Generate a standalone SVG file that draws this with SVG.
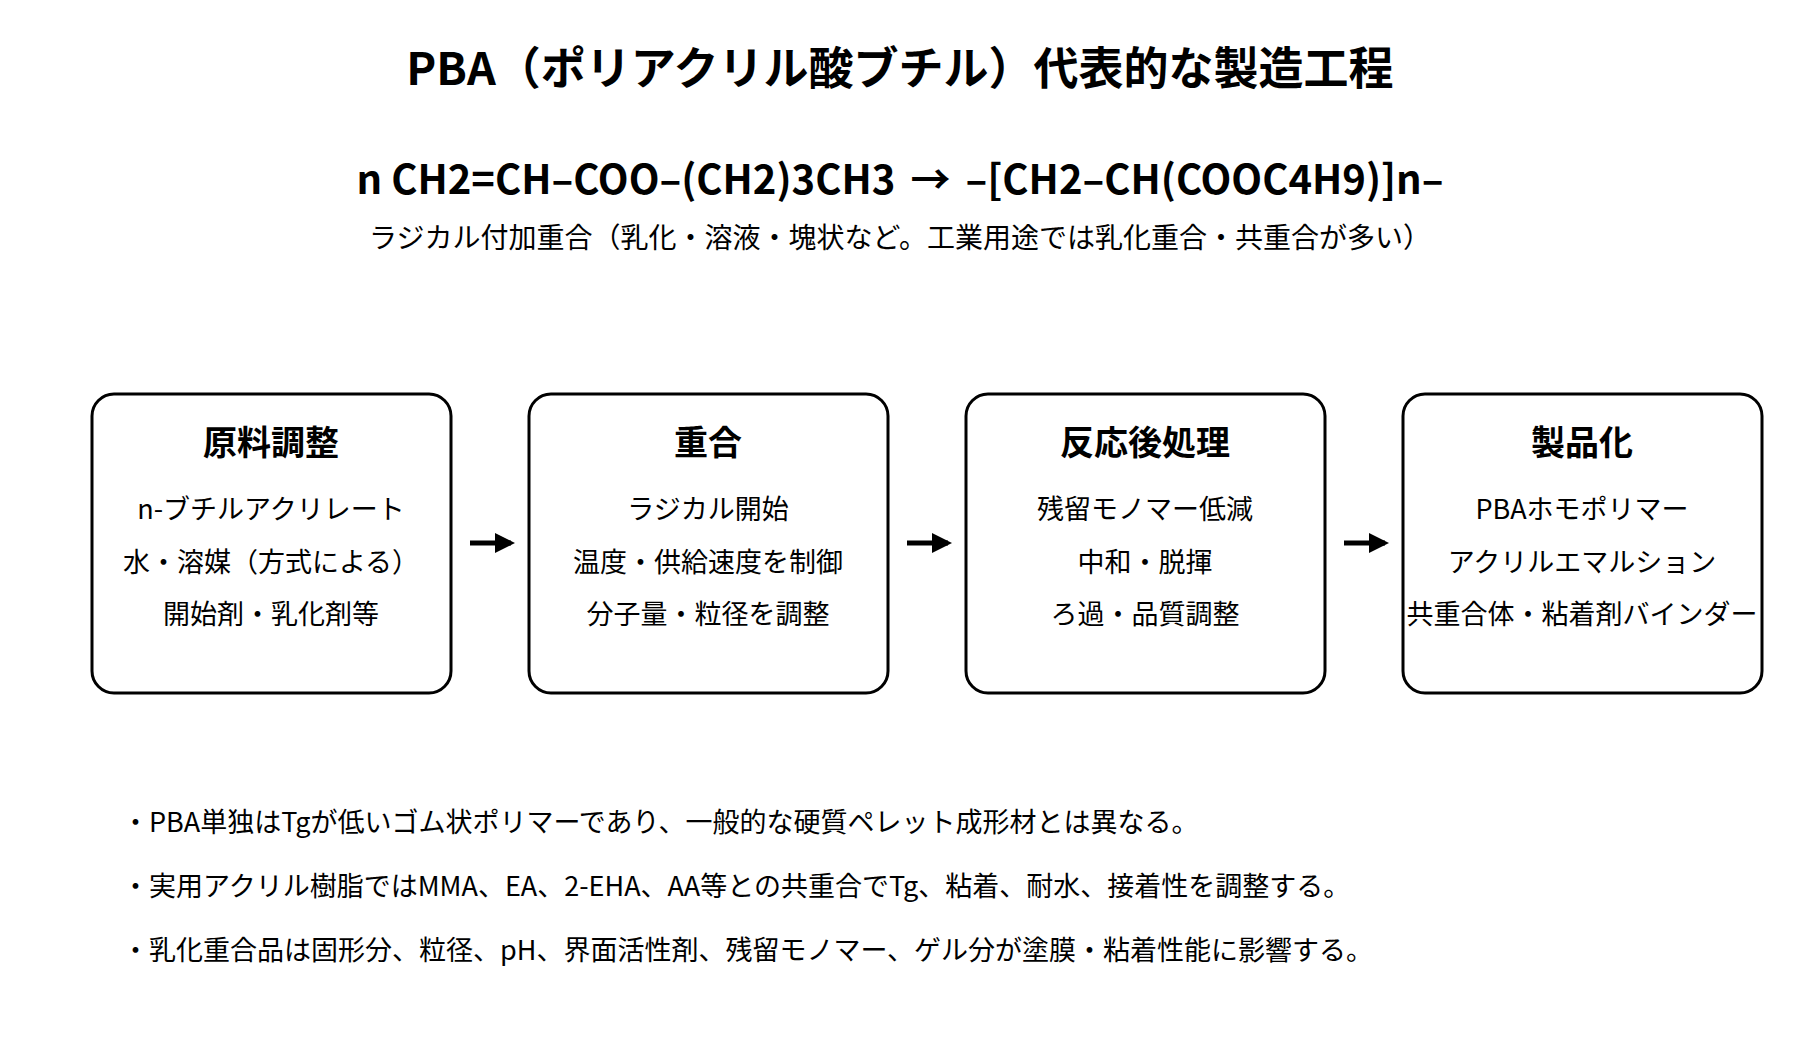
<svg xmlns="http://www.w3.org/2000/svg" width="1800" height="1050" viewBox="0 0 1800 1050">
<defs>
<style>
text{font-family:"Noto Sans CJK JP","Noto Sans",sans-serif;fill:#000}
.t{font-size:45px;font-weight:bold;text-anchor:middle}
.eq{font-size:40px;font-weight:bold;text-anchor:middle}
.s{font-size:28px;text-anchor:middle}
.bt{font-size:34px;font-weight:bold;text-anchor:middle}
.bl{font-size:27px;text-anchor:middle}
.n{font-size:27px}
.box{fill:#fff;stroke:#000;stroke-width:3}
.c{stroke:#000;stroke-width:5;fill:none}
</style>
<marker id="a" viewBox="0 0 10 10" refX="8" refY="5" markerWidth="4" markerHeight="4" orient="auto"><path d="M0,0L10,5L0,10z"/></marker>
</defs>
<rect width="1800" height="1050" fill="#fff"/>
<text class="t" x="900" y="85">PBA（ポリアクリル酸ブチル）代表的な製造工程</text>
<text class="eq" x="900" y="194">n CH2=CH–COO–(CH2)3CH3 <tspan dx="6">→</tspan> <tspan dx="6">–[CH2–CH(COOC4H9)]n–</tspan></text>
<text class="s" x="900" y="248">ラジカル付加重合（乳化・溶液・塊状など。工業用途では乳化重合・共重合が多い）</text>
<g id="n1"><rect class="box" x="92" y="394" width="359" height="299" rx="22"/>
<text class="bt" x="271" y="455">原料調整</text>
<text class="bl" x="271" y="519">n-ブチルアクリレート</text>
<text class="bl" x="271" y="572">水・溶媒（方式による）</text>
<text class="bl" x="271" y="624">開始剤・乳化剤等</text></g>
<g id="n2"><rect class="box" x="529" y="394" width="359" height="299" rx="22"/>
<text class="bt" x="708" y="455">重合</text>
<text class="bl" x="708" y="519">ラジカル開始</text>
<text class="bl" x="708" y="572">温度・供給速度を制御</text>
<text class="bl" x="708" y="624">分子量・粒径を調整</text></g>
<g id="n3"><rect class="box" x="966" y="394" width="359" height="299" rx="22"/>
<text class="bt" x="1145" y="455">反応後処理</text>
<text class="bl" x="1145" y="519">残留モノマー低減</text>
<text class="bl" x="1145" y="572">中和・脱揮</text>
<text class="bl" x="1145" y="624">ろ過・品質調整</text></g>
<g id="n4"><rect class="box" x="1403" y="394" width="359" height="299" rx="22"/>
<text class="bt" x="1582" y="455">製品化</text>
<text class="bl" x="1582" y="519">PBAホモポリマー</text>
<text class="bl" x="1582" y="572">アクリルエマルション</text>
<text class="bl" x="1582" y="624">共重合体・粘着剤バインダー</text></g>
<g id="connectors">
<line class="c" x1="470" y1="543" x2="511" y2="543" marker-end="url(#a)"/>
<line class="c" x1="907" y1="543" x2="948" y2="543" marker-end="url(#a)"/>
<line class="c" x1="1344" y1="543" x2="1385" y2="543" marker-end="url(#a)"/>
</g>
<text class="n" x="122" y="832">・PBA単独はTgが低いゴム状ポリマーであり、一般的な硬質ペレット成形材とは異なる。</text>
<text class="n" x="122" y="896">・実用アクリル樹脂ではMMA、EA、2-EHA、AA等との共重合でTg、粘着、耐水、接着性を調整する。</text>
<text class="n" x="122" y="960">・乳化重合品は固形分、粒径、pH、界面活性剤、残留モノマー、ゲル分が塗膜・粘着性能に影響する。</text>
</svg>
